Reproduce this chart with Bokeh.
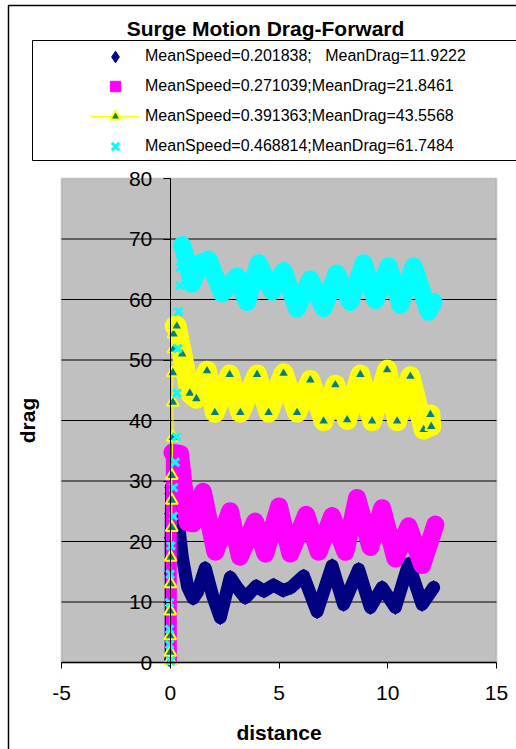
import math
from bokeh.plotting import figure
from bokeh.models import (Legend, LegendItem, BoxAnnotation, FixedTicker, Range1d,
                          LinearAxis)
from bokeh.embed import file_html
from bokeh.resources import INLINE
from bokeh.core.properties import value

# ---------------- data ----------------
TITLE = "Surge Motion Drag-Forward"
X_LABEL = "distance"
Y_LABEL = "drag"
X_TICKS = [-5, 0, 5, 10, 15]
Y_TICKS = [0, 10, 20, 30, 40, 50, 60, 70, 80]
SERIES_NAMES = [
    "MeanSpeed=0.201838;   MeanDrag=11.9222",
    "MeanSpeed=0.271039;MeanDrag=21.8461",
    "MeanSpeed=0.391363;MeanDrag=43.5568",
    "MeanSpeed=0.468814;MeanDrag=61.7484",
]

# series 1 (navy diamonds)
s1_ramp_x = [-0.05, -0.05, -0.05, -0.04, -0.03, -0.02]
s1_ramp_y = [0.5, 14.7, 20.6, 24.6, 27.9, 28.9]
s1_x = [0.05, 0.3, 0.55, 0.8, 1.05, 1.25, 1.61, 1.95, 2.3, 2.76, 3.05, 3.45, 3.95, 4.3,
        4.75, 5.2, 5.55, 6.13, 6.75, 7.44, 7.97, 8.66, 9.2, 9.74, 10.35, 10.96, 11.58, 12.11]
s1_y = [29.0, 25.5, 17.5, 12.5, 10.6, 11.6, 15.6, 11.0, 7.4, 14.1, 12.5, 10.7, 12.6, 11.8,
        12.8, 11.9, 12.4, 14.3, 8.4, 16.0, 9.6, 15.4, 9.1, 12.4, 9.1, 16.3, 9.6, 12.4]

# series 2 (magenta squares)
s2_ramp_x = [0.05, 0.05]
s2_ramp_y = [0.5, 34.5]
s2_x = [0.1, 0.45, 0.8, 1.05, 1.5, 2.07, 2.75, 3.2, 3.9, 4.37, 5.0, 5.52, 6.25, 6.82,
        7.44, 8.05, 8.59, 9.2, 9.74, 10.35, 10.96, 11.58, 12.19]
s2_y = [34.7, 34.5, 23.2, 23.0, 28.2, 18.3, 25.0, 17.5, 23.3, 18.0, 25.8, 18.0, 24.4, 18.3,
        24.2, 18.3, 27.2, 19.1, 25.5, 17.2, 22.5, 16.1, 22.8]

# series 3 (yellow line, teal triangles)
s3_ramp_x = [0.0, 0.0, 0.0, 0.0, 0.02, 0.02, 0.07, 0.07, 0.07, 0.12, 0.12, 0.12, 0.15, 0.15]
s3_ramp_y = [0.3, 1.7, 4.4, 8.5, 13.0, 17.4, 22.3, 26.8, 30.9, 37.2, 43.0, 47.9, 51.8, 54.3]
s3_x = [0.2, 0.3, 0.55, 0.9, 1.2, 1.69, 2.05, 2.73, 3.22, 3.99, 4.52, 5.21, 5.83, 6.44,
        7.05, 7.59, 8.13, 8.74, 9.28, 9.97, 10.43, 11.04, 11.65, 11.96, 12.0]
s3_y = [55.6, 55.6, 51.0, 44.5, 43.6, 48.2, 41.3, 47.6, 41.3, 47.6, 41.3, 47.8, 41.3, 46.7,
        39.9, 45.9, 40.1, 47.6, 39.9, 48.4, 39.9, 47.3, 38.5, 41.0, 39.0]

# series 4 (cyan crosses)
s4_ramp_x = [0.02, -0.03, -0.03, -0.03, 0.0, 0.03, 0.15, 0.15, 0.23, 0.28, 0.31, 0.35,
             0.38, 0.43, 0.46, 0.48]
s4_ramp_y = [0.3, 3.0, 5.5, 9.9, 14.6, 19.3, 24.2, 28.9, 33.1, 37.3, 44.5, 51.9,
             58.0, 62.3, 65.3, 67.5]
s4_x = [0.55, 0.75, 1.0, 1.4, 1.76, 2.38, 3.07, 3.53, 4.06, 4.68, 5.21, 5.83, 6.44, 7.05,
        7.65, 8.28, 8.89, 9.43, 10.04, 10.58, 11.19, 11.88, 12.1]
s4_y = [69.0, 66.5, 62.6, 66.0, 66.6, 61.0, 63.8, 59.6, 66.0, 61.3, 64.7, 58.5, 63.3, 58.6,
        64.3, 59.6, 66.0, 59.9, 65.5, 59.1, 65.5, 58.0, 59.6]

# ---------------- layout ----------------
W, H = 516, 749
FL, FR, FT, FB = 61, 496, 178, 662          # plot-area edges in pixels
XMIN, XMAX, YMIN, YMAX = -5, 15, 0, 80
SX = (FR - FL) / (XMAX - XMIN)              # px per x unit
SY = (FB - FT) / (YMAX - YMIN)              # px per y unit
FONT = "Liberation Sans"


def px_x(px):
    return XMIN + (px - FL) / SX


def px_y(py):
    return YMIN + (FB - py) / SY


# the frame covers the whole canvas so that title, legend and borders can be drawn
p = figure(width=W, height=H,
           x_range=Range1d(px_x(0), px_x(W)), y_range=Range1d(px_y(H), px_y(0)),
           output_backend="svg", toolbar_location=None,
           x_axis_location=None, y_axis_location=None,
           min_border=0, min_border_left=0, min_border_right=0,
           min_border_top=0, min_border_bottom=0)
p.outline_line_color = None
p.background_fill_color = "white"
p.border_fill_color = "white"
p.xgrid.visible = False
p.ygrid.visible = False

# plot area
p.add_layout(BoxAnnotation(left=XMIN, right=XMAX, bottom=YMIN, top=YMAX,
                           fill_color="#C0C0C0", fill_alpha=1,
                           line_color="#808080", line_width=2, level="image"))
grid_y = Y_TICKS[1:-1]
p.segment(x0=[XMIN] * len(grid_y), y0=grid_y, x1=[XMAX] * len(grid_y), y1=grid_y,
          line_color="black", line_width=1)

# x axis along y = 0
xa = LinearAxis(fixed_location=0, bounds=(XMIN, XMAX), ticker=FixedTicker(ticks=X_TICKS))
xa.major_label_overrides = {t: str(t) for t in X_TICKS}
xa.major_label_text_font = FONT
xa.major_label_text_font_size = "21px"
xa.major_label_text_color = "black"
xa.major_tick_out = 6
xa.major_tick_in = 0
xa.minor_tick_out = 0
xa.minor_tick_in = 0
xa.major_tick_line_color = "black"
xa.axis_line_color = "black"
xa.axis_line_width = 1.5
xa.major_label_standoff = 17
xa.axis_label = X_LABEL
xa.axis_label_text_font = FONT
xa.axis_label_text_font_size = "21px"
xa.axis_label_text_font_style = "bold"
xa.axis_label_text_color = "black"
xa.axis_label_standoff = 18
p.add_layout(xa, "below")

# y axis along x = 0
ya = LinearAxis(fixed_location=0, bounds=(YMIN, YMAX), ticker=FixedTicker(ticks=Y_TICKS))
ya.major_label_text_font = FONT
ya.major_label_text_font_size = "21px"
ya.major_label_text_color = "black"
ya.major_tick_out = 7
ya.major_tick_in = 0
ya.minor_tick_out = 0
ya.minor_tick_in = 0
ya.major_tick_line_color = "black"
ya.axis_line_color = "black"
ya.axis_line_width = 1
ya.major_label_standoff = 11
p.add_layout(ya, "left")

NAVY, MAG, YEL, TEAL, CYAN = "#000080", "#FF00FF", "#FFFF00", "#008080", "#00FFFF"

# series 1
p.line(s1_x, s1_y, line_width=13, line_color=NAVY, line_join="round", line_cap="round")
p.line(s1_ramp_x, s1_ramp_y, line_width=9, line_color=NAVY, line_cap="round")
r1 = p.scatter(s1_ramp_x + s1_x, s1_ramp_y + s1_y, marker="diamond", size=14,
               fill_color=NAVY, line_color=NAVY)

# series 2
p.line(s2_x, s2_y, line_width=18, line_color=MAG, line_join="round", line_cap="round")
p.line(s2_ramp_x, s2_ramp_y, line_width=11, line_color=MAG)
r2 = p.scatter(s2_ramp_x + s2_x, s2_ramp_y + s2_y, marker="square", size=10,
               fill_color=MAG, line_color=MAG)

# series 3
p.line(s3_x, s3_y, line_width=20, line_color=YEL, line_join="round", line_cap="round")
l3 = p.line(s3_ramp_x + s3_x, s3_ramp_y + s3_y, line_width=1, line_color=YEL)
r3 = p.scatter(s3_ramp_x + s3_x, s3_ramp_y + s3_y, marker="triangle", size=12,
               fill_color=TEAL, line_color=YEL, line_width=2)

# series 4
p.line(s4_x, s4_y, line_width=18, line_color=CYAN, line_join="round", line_cap="round")
r4 = p.scatter(s4_ramp_x + s4_x, s4_ramp_y + s4_y, marker="x", size=11,
               line_color=CYAN, line_width=3)

# outer chart border and legend box
p.add_layout(BoxAnnotation(left=px_x(8), right=px_x(560), top=px_y(5), bottom=px_y(800),
                           fill_color=None, line_color="black", line_width=1.5,
                           line_alpha=1))
p.add_layout(BoxAnnotation(left=px_x(32), right=px_x(560), top=px_y(40), bottom=px_y(160),
                           fill_color=None, line_color="black", line_width=1,
                           line_alpha=1))

# one legend per row, so that each row's marker gets its own size
legend_rows = [
    (SERIES_NAMES[0], [r1], 29, 56),
    (SERIES_NAMES[1], [r2], 26, 86),
    (SERIES_NAMES[2], [l3, r3], 26, 116),
    (SERIES_NAMES[3], [r4], 26, 146),
]
for name, rends, gh, cy in legend_rows:
    lg = Legend(items=[LegendItem(label=value(name), renderers=rends)],
                location=(90, H - (cy + gh / 2)), orientation="vertical", padding=0,
                margin=0, spacing=0, glyph_width=50, glyph_height=gh, label_height=gh,
                label_standoff=5, label_text_font=FONT, label_text_font_size="16px",
                label_text_color="black", border_line_color=None,
                background_fill_alpha=0)
    p.add_layout(lg)

# title and vertical axis title
p.text(x=[px_x(265)], y=[px_y(27.5)], text=[TITLE], text_align="center",
       text_baseline="middle", text_font=value(FONT), text_font_size=value("21px"),
       text_font_style=value("bold"), text_color="black")
p.text(x=[px_x(27)], y=[px_y(420)], text=[Y_LABEL], angle=math.pi / 2,
       text_align="center", text_baseline="middle", text_font=value(FONT),
       text_font_size=value("21px"), text_font_style=value("bold"), text_color="black")

open("out.html", "w").write(file_html(p, INLINE))
